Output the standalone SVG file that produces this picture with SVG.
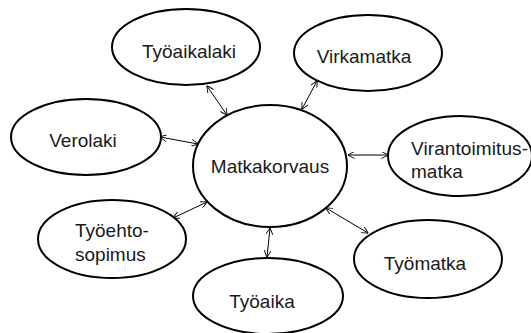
<svg xmlns="http://www.w3.org/2000/svg" width="531" height="333" viewBox="0 0 531 333">
<style>
.n ellipse{fill:#fff;stroke:#000;stroke-width:2}
.n text{font-family:"Liberation Sans",Arial,sans-serif;font-size:19px;fill:#1a1a1a}
.c line{stroke:#000;stroke-width:1;marker-start:url(#a);marker-end:url(#a)}
</style>
<defs>
<marker id="a" viewBox="0 0 10 10" refX="9.5" refY="5" markerWidth="7" markerHeight="7" markerUnits="userSpaceOnUse" orient="auto-start-reverse">
<path d="M0,0 L10,5 L0,10" fill="none" stroke="#000" stroke-width="1.3"/>
</marker>
</defs>
<rect width="531" height="333" fill="#fff"/>
<g id="connectors" class="c">
<line x1="207" y1="86" x2="227" y2="115"/>
<line x1="160" y1="137" x2="198" y2="144"/>
<line x1="317" y1="81" x2="302" y2="109"/>
<line x1="348" y1="155" x2="388" y2="155"/>
<line x1="326" y1="208" x2="368" y2="233"/>
<line x1="270" y1="228" x2="267" y2="257"/>
<line x1="207" y1="202" x2="173" y2="218"/>
</g>
<g id="matkakorvaus" class="n"><ellipse cx="270" cy="166" rx="77" ry="61"/><text x="270" y="173" text-anchor="middle">Matkakorvaus</text></g>
<g id="tyoaikalaki" class="n"><ellipse cx="186" cy="47" rx="74" ry="38"/><text x="189" y="58" text-anchor="middle">Työaikalaki</text></g>
<g id="virkamatka" class="n"><ellipse cx="368" cy="53" rx="74" ry="38"/><text x="364" y="63" text-anchor="middle">Virkamatka</text></g>
<g id="verolaki" class="n"><ellipse cx="86" cy="137" rx="75" ry="38"/><text x="83" y="147" text-anchor="middle">Verolaki</text></g>
<g id="virantoimitusmatka" class="n"><ellipse cx="460" cy="156" rx="72" ry="40"/><text x="411" y="155" textLength="117" lengthAdjust="spacing">Virantoimitus-</text><text x="411" y="178">matka</text></g>
<g id="tyoehtosopimus" class="n"><ellipse cx="112" cy="239" rx="74" ry="39"/><text x="75" y="237">Työehto-</text><text x="75" y="261">sopimus</text></g>
<g id="tyomatka" class="n"><ellipse cx="428" cy="259" rx="74" ry="39"/><text x="425" y="270" text-anchor="middle">Työmatka</text></g>
<g id="tyoaika" class="n"><ellipse cx="268" cy="296" rx="75" ry="38"/><text x="262" y="308" text-anchor="middle">Työaika</text></g>
</svg>
